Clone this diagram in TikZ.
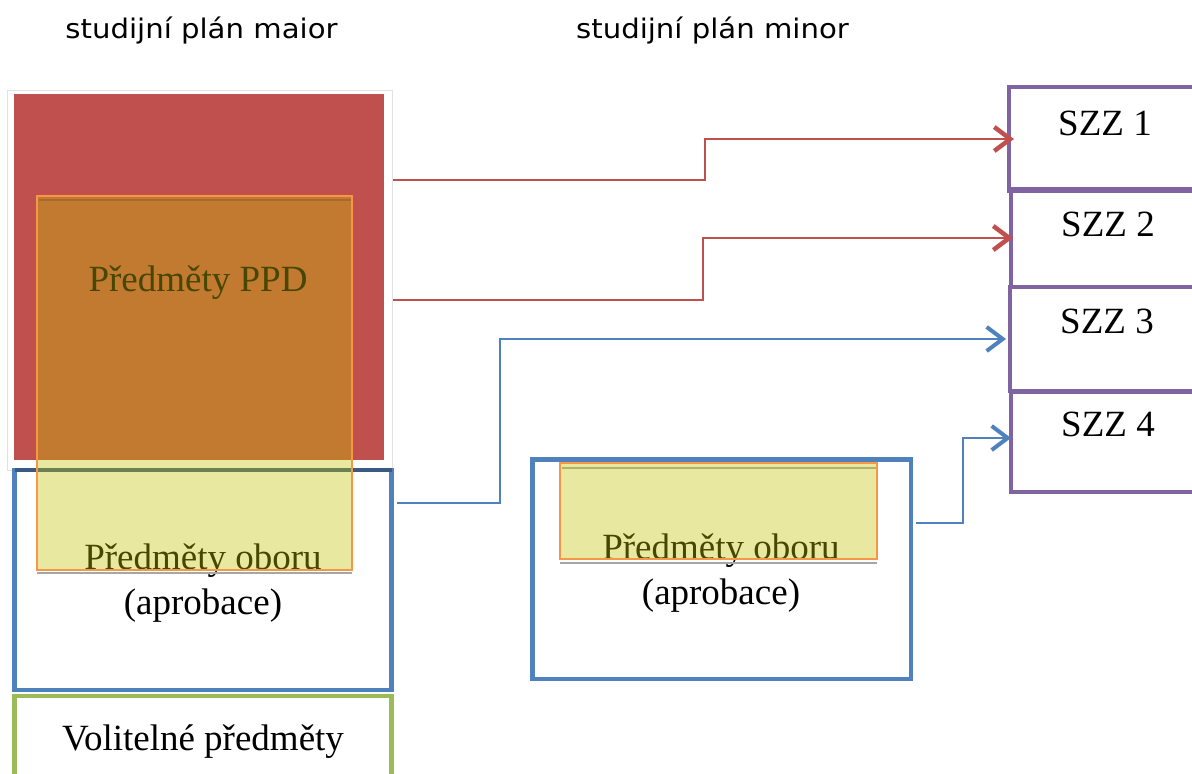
\documentclass[tikz,border=0pt]{standalone}
\usepackage{fontspec}
\setmainfont{Liberation Serif}
\newfontfamily\titlefont[FakeStretch=1.08]{DejaVu Sans}
\usetikzlibrary{arrows.meta}
\definecolor{boxred}{HTML}{C0504D}
\definecolor{boxblue}{HTML}{4F81BD}
\definecolor{boxpurple}{HTML}{8064A2}
\definecolor{boxgreen}{HTML}{9BBB59}
\definecolor{boxorange}{HTML}{F79646}
\definecolor{overlayfill}{RGB}{196,194,0}
\definecolor{framegray}{HTML}{E2E2E2}
\definecolor{navytop}{HTML}{3A5A82}
\definecolor{shadowgray}{HTML}{A6A6A6}
\definecolor{ppdtop}{HTML}{A8692A}
\definecolor{minortop}{HTML}{B4B468}
\begin{document}
\begin{tikzpicture}[x=1pt,y=-1pt,
  box/.style={draw, inner sep=0pt, outer sep=0pt, line width=4.5pt, anchor=north west},
  plainbox/.style={inner sep=0pt, outer sep=0pt, anchor=north west},
  txt/.style={font=\fontsize{37}{43}\selectfont, anchor=base, inner sep=0pt},
  titletxt/.style={font=\titlefont\fontsize{27}{32}\selectfont, anchor=base, inner sep=0pt},
  overlay/.style={plainbox, draw=boxorange, line width=1.5pt, fill=overlayfill, fill opacity=0.37, draw opacity=1},
  conn/.style={line width=1.5pt},
  redarrow/.style={conn, draw=boxred, -{Straight Barb[length=16pt,width=24pt,line width=4.5pt]}},
  bluearrow/.style={conn, draw=boxblue, -{Straight Barb[length=16pt,width=24pt,line width=4pt]}}
]
\useasboundingbox (0,0) rectangle (1192,774);
\clip (0,0) rectangle (1192,774);
\fill[white] (0,0) rectangle (1192,774);

% titles
\node[titletxt] (title1) at (201.5,38) {studijní plán maior};
\node[titletxt] (title2) at (712.5,38) {studijní plán minor};

% major column
\node[plainbox, draw=framegray, line width=1pt, fill=white, minimum width=385pt, minimum height=380pt] (frame) at (7,90) {};
\node[plainbox, fill=boxred, minimum width=370pt, minimum height=366pt] (ppd) at (14,94) {};
\node[box, draw=boxblue, minimum width=377pt, minimum height=220pt] (obor1) at (14.5,470) {};
\draw[navytop, line width=4pt] (obor1.north west) -- (obor1.north east);
\node[box, draw=boxgreen, minimum width=377pt, minimum height=120pt] (volit) at (14.5,696) {};

% minor column
\node[box, draw=boxblue, minimum width=378.5pt, minimum height=219.5pt] (obor2) at (532.5,459.5) {};

% SZZ boxes
\node[box, draw=boxpurple, minimum width=191pt, minimum height=104pt] (szz1) at (1009,87) {};
\node[box, draw=boxpurple, minimum width=189pt, minimum height=98pt] (szz2) at (1011,189) {};
\node[box, draw=boxpurple, minimum width=190pt, minimum height=104pt] (szz3) at (1010,287) {};
\node[box, draw=boxpurple, minimum width=189pt, minimum height=100pt] (szz4) at (1011,392) {};
\node[txt] (tszz1) at (1105,135) {SZZ 1};
\node[txt] (tszz2) at (1108,236) {SZZ 2};
\node[txt] (tszz3) at (1107,333) {SZZ 3};
\node[txt] (tszz4) at (1108,436) {SZZ 4};

% texts beneath the overlays
\node[txt] (tppd) at (198,291) {Předměty PPD};
\node[txt] (toboru1) at (203,569) {Předměty oboru};
\node[txt] (taprob1) at (203,614) {(aprobace)};
\node[txt] (tvolit) at (203,750) {Volitelné předměty};
\node[txt] (toboru2) at (721,559) {Předměty oboru};
\node[txt] (taprob2) at (721,604) {(aprobace)};

% overlays
\draw[shadowgray, line width=2pt] (37,573) -- (352,573);
\node[overlay, minimum width=315pt, minimum height=374pt] (ov1) at (37,196) {};
\draw[ppdtop, line width=1.5pt] (38.5,200) -- (350.5,200);
\draw[shadowgray, line width=2pt] (560,563) -- (877,563);
\node[overlay, minimum width=317pt, minimum height=96pt] (ov2) at (560,463) {};
\draw[minortop, line width=1.5pt] (561.5,468) -- (875.5,468);

% connectors
\coordinate (r1s) at (393,180);
\coordinate (r2s) at (393,300);
\coordinate (b1s) at (397,503);
\coordinate (b2s) at (916,523);
\draw[redarrow] (r1s) -- ++(312,0) |- ([xshift=5pt]szz1.west);
\draw[redarrow] (r2s) -- ++(310,0) |- ([xshift=2pt]szz2.west);
\draw[bluearrow] (b1s) -- ++(103,0) |- ([xshift=-4pt]szz3.west);
\draw[bluearrow] (b2s) -- ++(47,0) |- ([yshift=4pt]szz4.west);
\end{tikzpicture}
\end{document}
